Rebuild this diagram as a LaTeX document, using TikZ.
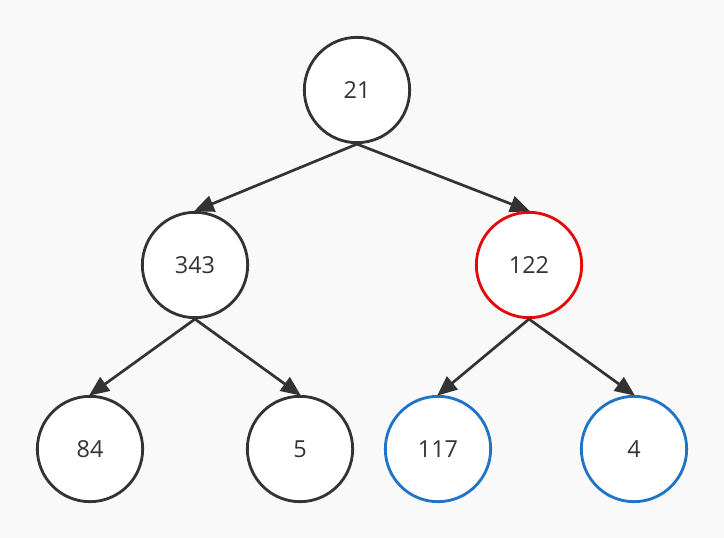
\documentclass[tikz,border=0pt]{standalone}
\usepackage{fontspec}
\setmainfont{Open Sans}
\usepackage{tikz}
\usetikzlibrary{arrows.meta, positioning}
\definecolor{Ink}{HTML}{333333}
\definecolor{Paper}{HTML}{F9F9F9}
\definecolor{Red}{HTML}{E50A0A}
\definecolor{Blue}{HTML}{1F74C6}

\begin{document}
\begin{tikzpicture}[
  x=0.03cm, y=-0.03cm,
  font=\fontsize{20}{24}\selectfont\color{Ink},
  vertex/.style={circle, draw=Ink, fill=white, line width=2.4pt, minimum size=3.16cm, inner sep=0pt},
  arrow/.style={-{Triangle[length=6mm, width=5mm]}, line width=2.3pt, draw=Ink, shorten >=-1pt}
]
\fill[Paper] (0,0) rectangle (724,538);
\useasboundingbox (0,0) rectangle (724,538);

\node[vertex] (n21) at (357,90) {21};
\node[vertex] (n343) at (195,265) {343};
\node[vertex, draw=Red] (n122) at (529,265) {122};
\node[vertex] (n84) at (90,449) {84};
\node[vertex] (n5) at (300,449) {5};
\node[vertex, draw=Blue] (n117) at (438,449) {117};
\node[vertex, draw=Blue] (n4) at (634,449) {4};

\draw[arrow] (n21.south) -- (n343.north);
\draw[arrow] (n21.south) -- (n122.north);
\draw[arrow] (n343.south) -- (n84.north);
\draw[arrow] (n343.south) -- (n5.north);
\draw[arrow] (n122.south) -- (n117.north);
\draw[arrow] (n122.south) -- (n4.north);
\end{tikzpicture}
\end{document}
